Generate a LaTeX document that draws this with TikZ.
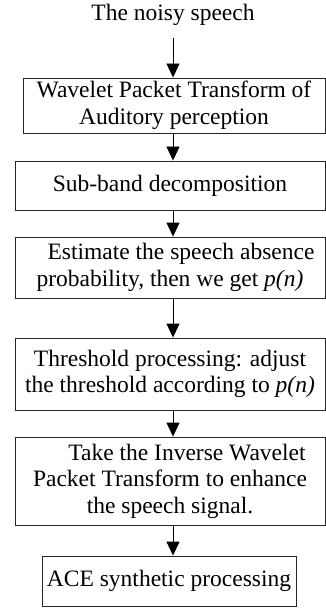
\documentclass[tikz,border=0pt]{standalone}
\usepackage{fontspec}
\setmainfont{Liberation Serif}
\usetikzlibrary{arrows.meta}
\begin{document}
\begin{tikzpicture}[x=1pt,y=-1pt,
  every node/.style={font=\fontsize{23.5}{26.5}\selectfont, inner sep=0pt, align=center},
  stepbox/.style={draw=black!85, line width=0.9pt, rectangle},
  arr/.style={line width=0.9pt, -{Triangle[width=13pt,length=14pt]}}]
\useasboundingbox (0,0) rectangle (326,612);
\coordinate (ax) at (173,0);
\node (title) at (173,15) {The noisy speech};
\coordinate (t0) at (173,38);
\node[stepbox, minimum width=302pt, minimum height=55pt] (b1) at (174,105.5)
  {Wavelet Packet Transform of\\Auditory perception};
\node[stepbox, minimum width=310pt, minimum height=49pt] (b2) at (170,185.5)
  {Sub-band decomposition};
\node[stepbox, minimum width=310pt, minimum height=61pt] (b3) at (170,267.5)
  {\hspace*{22pt}Estimate the speech absence\\probability, then we get \textit{p(n)}};
\node[stepbox, minimum width=310pt, minimum height=72pt] (b4) at (170,374)
  {Threshold processing: adjust\\the threshold according to \textit{p(n)}};
\node[stepbox, minimum width=310pt, minimum height=88pt] (b5) at (170,481)
  {\hspace*{34pt}Take the Inverse Wavelet\\Packet Transform to enhance\\the speech signal.};
\node[stepbox, minimum width=254pt, minimum height=50pt] (b6) at (169,581)
  {ACE synthetic processing};
\draw[arr] (t0) -- (b1.north -| ax);
\draw[arr] (b1.south -| ax) -- (b2.north -| ax);
\draw[arr] (b2.south -| ax) -- (b3.north -| ax);
\draw[arr] (b3.south -| ax) -- (b4.north -| ax);
\draw[arr] (b4.south -| ax) -- (b5.north -| ax);
\draw[arr] (b5.south -| ax) -- (b6.north -| ax);
\end{tikzpicture}
\end{document}
